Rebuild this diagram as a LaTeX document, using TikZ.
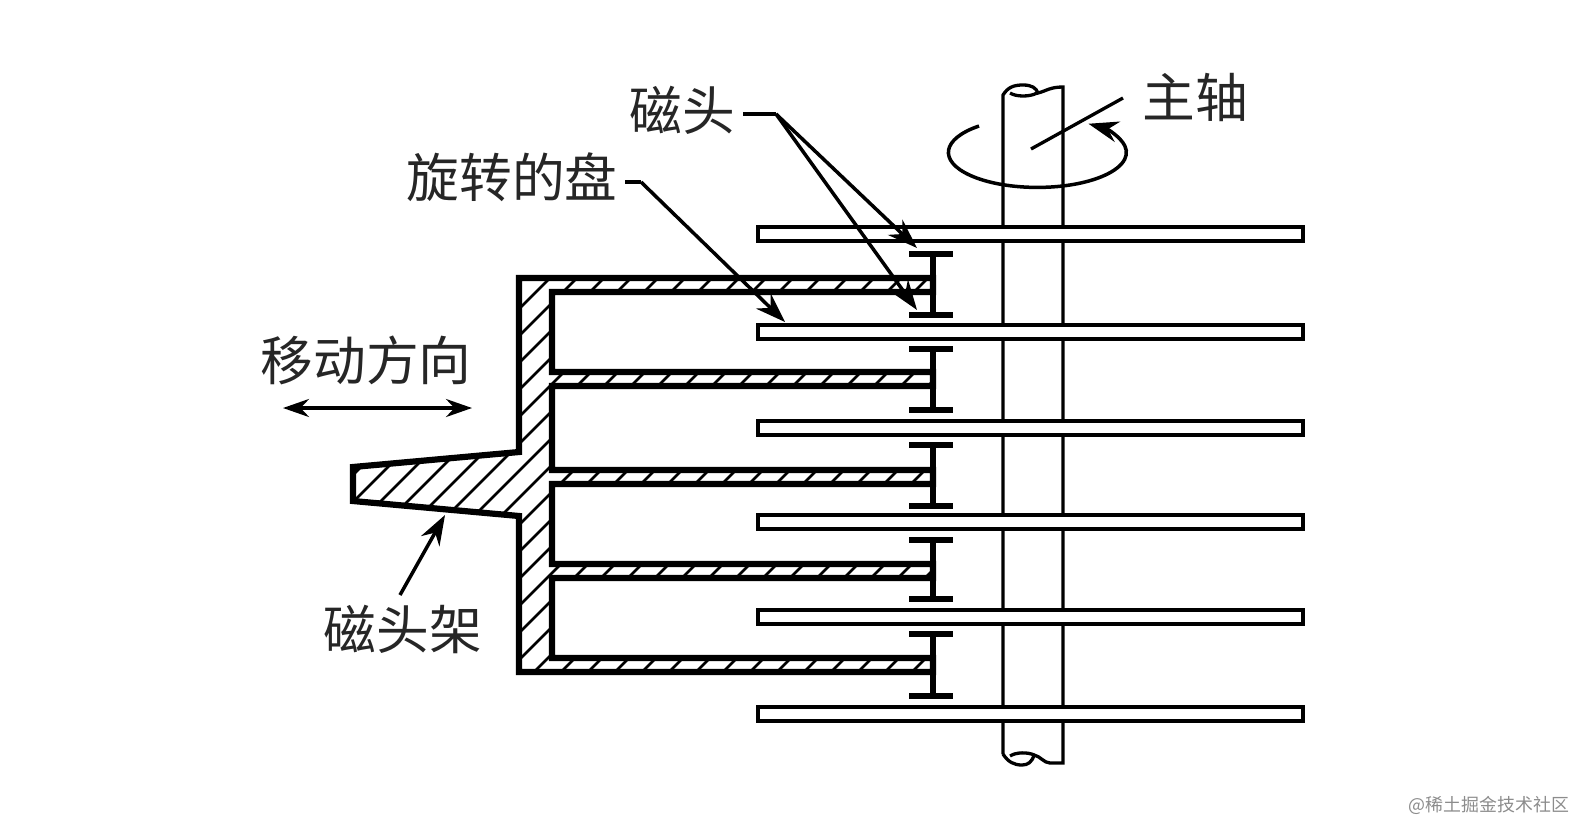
\documentclass[tikz,border=0pt]{standalone}
\usepackage{fontspec}
\setmainfont{Noto Sans CJK SC}
\usetikzlibrary{arrows.meta}
\tikzset{
  lbl/.style={font=\fontsize{15pt}{16pt}\selectfont, inner sep=0pt, text=black!85},
  diskbox/.style={draw, fill=white, line width=0.4mm, minimum width=54.5mm, minimum height=1.35mm, inner sep=0pt},
  thinline/.style={line width=0.33mm},
  armline/.style={line width=0.62mm, line join=miter},
  headline/.style={line width=0.55mm},
  hatchline/.style={line width=0.27mm},
  myarrow/.style={-{Stealth[length=3mm, width=2.1mm]}, line width=0.35mm},
  myarrow2/.style={{Stealth[length=2.6mm, width=1.8mm]}-{Stealth[length=2.6mm, width=1.8mm]}, line width=0.35mm},
}
\newcommand{\armpath}{(519,278) -- (933,278) -- (933,292) -- (552,292) -- (552,372) -- (933,372) -- (933,386)
  -- (552,386) -- (552,470) -- (933,470) -- (933,484) -- (552,484) -- (552,564) -- (933,564) -- (933,578)
  -- (552,578) -- (552,658) -- (933,658) -- (933,672) -- (519,672) -- (519,516) -- (353,501) -- (353,467)
  -- (519,452) -- cycle}
\begin{document}
\begin{tikzpicture}[x=0.1mm, y=-0.1mm]
  \useasboundingbox (0,0) rectangle (1576,822);
  % spindle
  \draw[thinline] (1003,754) -- (1003,95) .. controls (1008,87) and (1014,85) .. (1023,85)
    .. controls (1032,85) and (1036,88) .. (1038,93) .. controls (1046,91) and (1050,87) .. (1063,87) -- (1063,763)
    -- (1050,763) .. controls (1044,763) and (1040,756) .. (1034,755)
    .. controls (1032,762) and (1028,765) .. (1022,765) .. controls (1014,765) and (1008,762) .. (1003,754);
  \draw[thinline] (1010,93) .. controls (1016,97) and (1030,97) .. (1037,93);
  \draw[thinline] (1010,756) .. controls (1016,752) and (1028,752) .. (1034,755);
  % disks
  \foreach \n/\y in {1/234,2/332,3/428,4/522,5/617,6/714}
    \node[diskbox] (disk\n) at (1030,\y) {};
  % arm
  \begin{scope}
    \clip \armpath;
    \foreach \c in {828,855,...,1620}
      \draw[hatchline] ({\c-260},260) -- ({\c-700},700);
  \end{scope}
  \draw[armline] \armpath;
  % heads
  \foreach \y/\z in {254/315,349/410,445/506,540/599,634/696} {
    \draw[headline] (933,\y) -- (933,\z);
    \draw[headline] (909,\y) -- (953,\y);
    \draw[headline] (909,\z) -- (953,\z);
  }
  % labels
  \node[lbl] (headlbl) at (682,110) {磁头};
  \node[lbl] (disklbl) at (512,177) {旋转的盘};
  \node[lbl] (movelbl) at (366,360) {移动方向};
  \node[lbl] (armlbl) at (403,629) {磁头架};
  \node[lbl] (axislbl) at (1195,97) {主轴};
  \node[font=\fontsize{5.1pt}{7pt}\selectfont, text=black!45, inner sep=0pt, anchor=east] (marklbl) at (1570,805) {@稀土掘金技术社区};
  % leaders
  \coordinate (headjoin) at (776,114);
  \coordinate (headtipa) at (917,248);
  \coordinate (headtipb) at (917,310);
  \coordinate (diskjoin) at (641,182);
  \coordinate (disktip) at (785,322);
  \coordinate (moveleft) at (283,408);
  \coordinate (moveright) at (472,408);
  \coordinate (armfrom) at (400,595);
  \coordinate (armtip) at (445,515);
  \coordinate (axisfrom) at (1123,98);
  \coordinate (axisend) at (1031,149);
  \coordinate (spinstart) at (979,126);
  \draw[thinline] (headlbl.east) ++(8,4) coordinate (headdash) -- (headjoin);
  \draw[myarrow] (headjoin) -- (headtipa);
  \draw[myarrow] (headjoin) -- (headtipb);
  \draw[thinline] (disklbl.east) ++(7,5) coordinate (diskdash) -- (diskjoin);
  \draw[myarrow] (diskjoin) -- (disktip);
  \draw[myarrow2] (moveleft) -- (moveright);
  \draw[myarrow] (armfrom) -- (armtip);
  \draw[thinline] (axisfrom) -- (axisend);
  \draw[myarrow] (spinstart) arc[start angle=131, end angle=415, x radius=8.9mm, y radius=3.5mm];
\end{tikzpicture}
\end{document}
